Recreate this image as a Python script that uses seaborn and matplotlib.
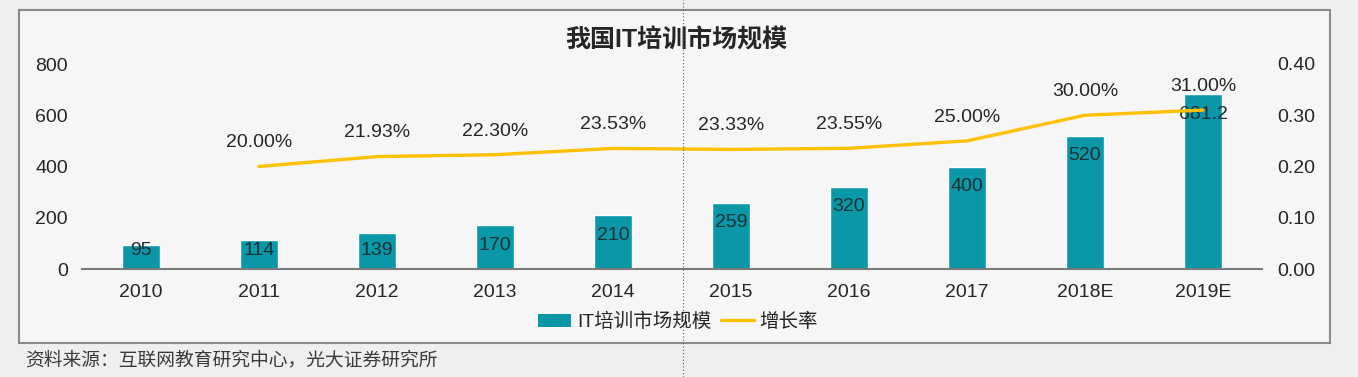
import seaborn as sns
import matplotlib.pyplot as plt
import numpy as np
import pandas as pd
from matplotlib.patches import Rectangle, Patch
from matplotlib.lines import Line2D

years = ['2010', '2011', '2012', '2013', '2014', '2015', '2016', '2017', '2018E', '2019E']
market = [95, 114, 139, 170, 210, 259, 320, 400, 520, 681.2]
growth_years = years[1:]
growth = [0.20, 0.2193, 0.2230, 0.2353, 0.2333, 0.2355, 0.25, 0.30, 0.31]

bar_color = '#0A98A8'
line_color = '#FFC000'
text_color = '#262626'

sns.set_style('white')
plt.rcParams['font.family'] = ['Liberation Sans', 'Noto Sans CJK SC', 'DejaVu Sans']

fig = plt.figure(figsize=(13.58, 3.77), dpi=100, facecolor='#efefef')

# chart frame
fig.add_artist(Rectangle((19 / 1358, 1 - 343 / 377), (1330 - 19) / 1358, (343 - 10) / 377,
                         transform=fig.transFigure, facecolor='#f6f6f6',
                         edgecolor='#8a8a8a', linewidth=1.5, zorder=0))

ax = fig.add_axes([82 / 1358, 1 - 269 / 377, (1262 - 82) / 1358, (269 - 64) / 377])
ax.set_facecolor('none')

df = pd.DataFrame({'year': years, 'market': market})
sns.barplot(data=df, x='year', y='market', color=bar_color, width=0.32,
            saturation=1, ax=ax, zorder=2)

ax.set_xlim(-0.5, 9.5)
ax.set_ylim(0, 800)
ax.set_yticks([0, 200, 400, 600, 800])
ax.set_xlabel('')
ax.set_ylabel('')
for s in ['left', 'right', 'top']:
    ax.spines[s].set_visible(False)
ax.spines['bottom'].set_color('#7a7a7a')
ax.spines['bottom'].set_linewidth(1.5)
ax.tick_params(axis='both', length=0, labelsize=14, colors=text_color)
ax.tick_params(axis='x', pad=11)
ax.tick_params(axis='y', pad=10)

# bar value labels, just inside the top of each bar
for i, v in enumerate(market):
    ax.text(i, max(v - 78, 74), f'{v:g}', ha='center', va='center',
            fontsize=14, color='#1c2f33', zorder=4)

ax2 = ax.twinx()
ax2.set_facecolor('none')
gdf = pd.DataFrame({'x': np.arange(1, len(years)), 'g': growth})
sns.lineplot(data=gdf, x='x', y='g', color=line_color, linewidth=2.4, ax=ax2, zorder=3)
ax2.set_ylim(0, 0.4)
ax2.set_yticks([0, 0.1, 0.2, 0.3, 0.4])
ax2.set_yticklabels([f'{t:.2f}' for t in [0, 0.1, 0.2, 0.3, 0.4]])
ax2.set_xlim(-0.5, 9.5)
ax2.set_ylabel('')
ax2.set_xlabel('')
for s in ['left', 'right', 'top', 'bottom']:
    ax2.spines[s].set_visible(False)
ax2.tick_params(axis='y', length=0, labelsize=14, colors=text_color, pad=11)

for x, g in zip(gdf['x'], growth):
    ax2.annotate(f'{g * 100:.2f}%', (x, g), xytext=(0, 17), textcoords='offset points',
                 ha='center', va='center', fontsize=14, color=text_color)

fig.text(676 / 1358, 1 - 40 / 377, '我国IT培训市场规模', ha='center', va='center',
         fontsize=18, fontweight='bold', color=text_color)

handles = [Patch(facecolor=bar_color, edgecolor='none'),
           Line2D([0], [0], color=line_color, linewidth=2.4)]
fig.legend(handles, ['IT培训市场规模', '增长率'], loc='center',
           bbox_to_anchor=(678 / 1358, 1 - 322 / 377), ncol=2, frameon=False,
           fontsize=14, handlelength=1.7, handletextpad=0.3, columnspacing=0.5,
           labelcolor=text_color)

fig.text(25 / 1358, 1 - 360 / 377, '资料来源：互联网教育研究中心，光大证券研究所',
         ha='left', va='center', fontsize=13.5, color='#3a3a3a')

# dotted guide line seen in the screenshot
fig.add_artist(Line2D([683 / 1358, 683 / 1358], [0, 1], transform=fig.transFigure,
                      color='#555555', linewidth=0.8, linestyle=(0, (1, 2)), zorder=5))

fig.savefig('out.png', dpi=100, facecolor=fig.get_facecolor())
